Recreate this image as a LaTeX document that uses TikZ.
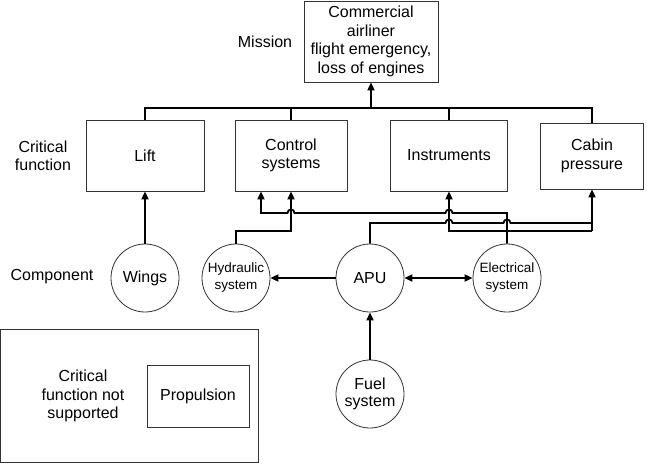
\documentclass[tikz,border=0pt]{standalone}
\usepackage{fontspec}
\setmainfont{Liberation Sans}
\usetikzlibrary{arrows.meta}
\tikzset{
  box/.style={draw=black!80,line width=0.8pt,rectangle,inner sep=0pt,align=center,font=\fontsize{16}{18.5}\selectfont},
  circ/.style={draw=black!80,line width=0.8pt,circle,inner sep=0pt,minimum size=68pt,align=center,font=\fontsize{16}{17}\selectfont},
  scirc/.style={circ,font=\fontsize{13.5}{17}\selectfont},
  lbl/.style={inner sep=0pt,align=center,font=\fontsize{16}{18.5}\selectfont},
  conn/.style={draw=black,line width=1.8pt},
  tip/.style={-{Triangle[length=8pt,width=7pt]}},
  dtip/.style={{Triangle[length=8pt,width=7pt]}-{Triangle[length=8pt,width=7pt]}},
  hop/.style={out=90,in=90,looseness=1.7}
}
\begin{document}
\begin{tikzpicture}[x=1pt,y=1pt]
\useasboundingbox (0,0) rectangle (647,-463);
% top boxes
\node[box,minimum width=134pt,minimum height=81pt] (mission) at (371,-41.5) {Commercial\\airliner\\flight emergency,\\loss of engines};
\node[box,minimum width=118pt,minimum height=71pt] (lift) at (145,-155.5) {Lift};
\node[box,minimum width=112pt,minimum height=71pt] (control) at (291,-155.5) {Control\\systems};
\node[box,minimum width=117pt,minimum height=71pt] (instr) at (449,-155.5) {Instruments};
\node[box,minimum width=103pt,minimum height=66pt] (cabin) at (592,-156) {Cabin\\pressure};
% labels
\node[lbl] (lmission) at (265,-42) {Mission};
\node[lbl] (lcrit) at (43,-156) {Critical\\function};
\node[lbl] (lcomp) at (52,-277) {Component};
% circles
\node[circ] (wings) at (145,-278) {Wings};
\node[scirc] (hyd) at (236,-278) {Hydraulic\\system};
\node[circ] (apu) at (370,-278) {APU};
\node[scirc] (elec) at (507,-278) {Electrical\\system};
\node[circ] (fuel) at (370,-394) {Fuel\\system};
% bottom-left box
\node[box,minimum width=257.5pt,minimum height=133pt] (outer) at (129.25,-395.5) {};
\node[lbl] (lnotsup) at (83,-396) {Critical\\function not\\supported};
\node[box,minimum width=102pt,minimum height=62pt] (prop) at (198,-396) {Propulsion};
% tree to mission
\coordinate (bus) at (371,-108);
\draw[conn] (lift.north) -- (lift.north |- bus) -- (cabin.north |- bus) -- (cabin.north);
\draw[conn] (control.north) -- (control.north |- bus);
\draw[conn] (instr.north) -- (instr.north |- bus);
\draw[conn,tip] (bus) -- (mission.south);
% component links
\draw[conn,tip] (wings.north) -- (lift.south);
\draw[conn,tip] (fuel.north) -- (apu.south);
\draw[conn,tip] (apu.west) -- (hyd.east);
\draw[conn,dtip] (apu.east) -- (elec.west);
% hydraulic -> control
\draw[conn,tip] (hyd.north) -- (236,-231) -- (291,-231) -- (control.south);
% electrical -> control
\draw[conn,tip] (elec.north) -- (507,-213) -- (452.5,-213) to[hop] (445.5,-213) -- (294.5,-213) to[hop] (287.5,-213) -- (261,-213) -- ([xshift=-30pt]control.south);
% APU -> cabin, instruments
\draw[conn] (apu.north) -- (370,-223) -- (445.5,-223) to[hop] (452.5,-223) -- (503.5,-223) to[hop] (510.5,-223) -- (592,-223);
\draw[conn,tip] (592,-231) -- (cabin.south);
\draw[conn,tip] (592,-231) -- (449,-231) -- (instr.south);
\end{tikzpicture}
\end{document}
